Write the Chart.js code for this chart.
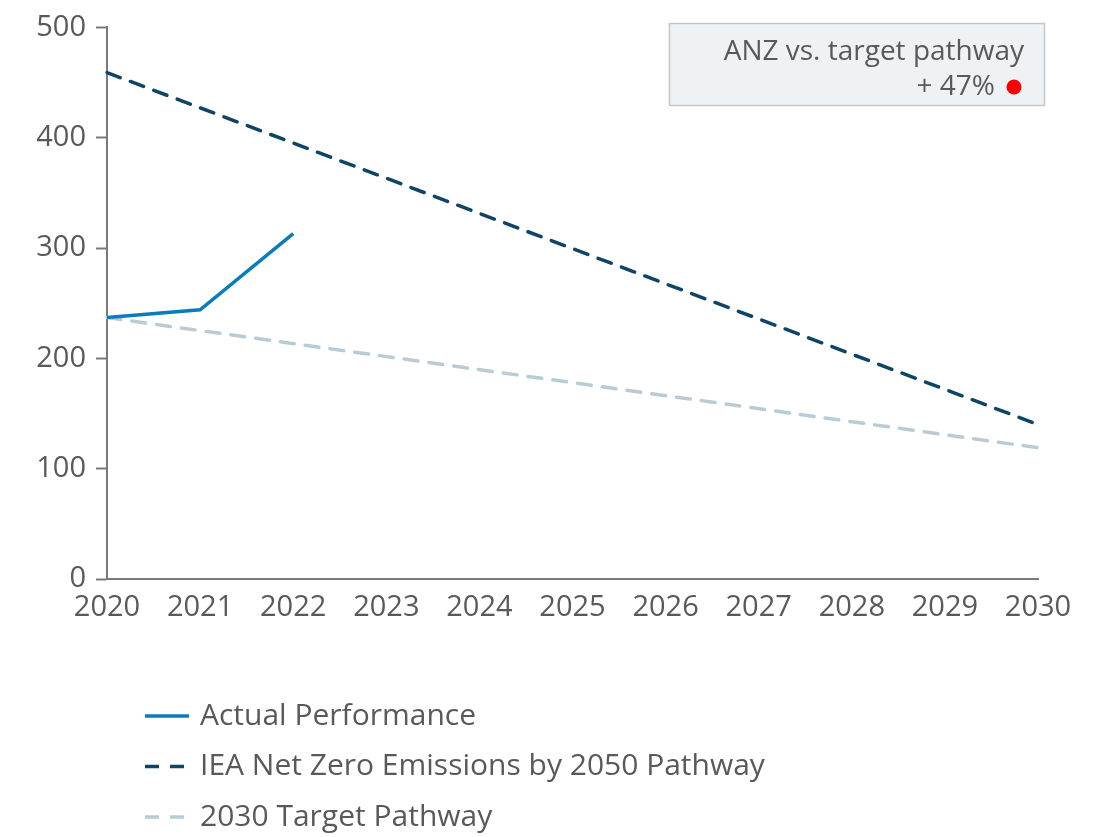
<!DOCTYPE html>
<html lang="en">
<head>
    <meta charset="UTF-8">
    <title>ANZ vs. target pathway</title>
    <script src="https://cdn.jsdelivr.net/npm/chart.js"></script>
    <style>
        html, body {
            margin: 0;
            padding: 0;
            background: #ffffff;
        }
        #chart {
            display: block;
        }
    </style>
</head>
<body>
<canvas id="chart" width="1108" height="837"></canvas>
<script>
// Dados do gráfico
const years = ['2020', '2021', '2022', '2023', '2024', '2025', '2026', '2027', '2028', '2029', '2030'];
const actualPerformance = [237, 244, 313, null, null, null, null, null, null, null, null];
// straight pathways: only the end points are known, the line spans the gap
const ieaPathway = [459, null, null, null, null, null, null, null, null, null, 140];
const targetPathway = [237, null, null, null, null, null, null, null, null, null, 119];
const yTicks = [0, 100, 200, 300, 400, 500];

const boxTitle = 'ANZ vs. target pathway';
const boxValue = '+ 47%';

const textColor = '#595959';
const axisColor = '#7a7a7a';
const fontFamily = '"Open Sans", "Noto Sans", sans-serif';

// caixa de anotação no canto superior direito
const annotationBox = {
    id: 'annotationBox',
    afterDraw(chart) {
        const ctx = chart.ctx;
        ctx.save();
        ctx.fillStyle = '#eef2f5';
        ctx.strokeStyle = '#c6c6c6';
        ctx.lineWidth = 1.5;
        ctx.fillRect(669.5, 23.5, 375, 82);
        ctx.strokeRect(669.5, 23.5, 375, 82);
        ctx.fillStyle = textColor;
        ctx.font = '28px ' + fontFamily;
        ctx.textAlign = 'right';
        ctx.textBaseline = 'middle';
        ctx.fillText(boxTitle, 1024, 52);
        ctx.fillText(boxValue, 995, 87);
        ctx.fillStyle = '#ff0000';
        ctx.beginPath();
        ctx.arc(1014, 87, 7.5, 0, Math.PI * 2);
        ctx.fill();
        ctx.restore();
    }
};

// legenda vertical abaixo do gráfico
const verticalLegend = {
    id: 'verticalLegend',
    afterDraw(chart) {
        const ctx = chart.ctx;
        ctx.save();
        ctx.font = '30px ' + fontFamily;
        ctx.textBaseline = 'middle';
        ctx.textAlign = 'left';
        chart.data.datasets.forEach((ds, i) => {
            const y = 716 + i * 50.5;
            ctx.strokeStyle = ds.borderColor;
            ctx.lineWidth = 3.5;
            ctx.setLineDash(ds.borderDash || []);
            ctx.beginPath();
            ctx.moveTo(145, y);
            ctx.lineTo(189, y);
            ctx.stroke();
            ctx.setLineDash([]);
            ctx.fillStyle = textColor;
            ctx.fillText(ds.label, 200, y);
        });
        ctx.restore();
    }
};

const ctx = document.getElementById('chart').getContext('2d');
const chart = new Chart(ctx, {
    type: 'line',
    data: {
        labels: years,
        datasets: [{
            label: 'Actual Performance',
            data: actualPerformance,
            borderColor: '#0a7bbd',
            borderWidth: 3.5,
            pointRadius: 0,
            tension: 0,
            spanGaps: false
        }, {
            label: 'IEA Net Zero Emissions by 2050 Pathway',
            data: ieaPathway,
            borderColor: '#0e4466',
            borderWidth: 3.5,
            borderDash: [14, 11],
            borderCapStyle: 'round',
            pointRadius: 0,
            spanGaps: true
        }, {
            label: '2030 Target Pathway',
            data: targetPathway,
            borderColor: '#b9ccd5',
            borderWidth: 3.5,
            borderDash: [14, 11],
            borderCapStyle: 'round',
            pointRadius: 0,
            spanGaps: true
        }]
    },
    options: {
        responsive: false,
        animation: false,
        layout: {
            padding: { left: 0, right: 70, top: 24, bottom: 213 }
        },
        plugins: {
            legend: { display: false },
            tooltip: { enabled: false }
        },
        scales: {
            x: {
                offset: false,
                grid: { drawOnChartArea: false, drawTicks: false },
                border: { color: axisColor, width: 2 },
                ticks: {
                    color: textColor,
                    font: { size: 29, family: fontFamily },
                    padding: 11,
                    maxRotation: 0,
                    autoSkip: false
                },
                afterFit(scale) { scale.height = 45; }
            },
            y: {
                min: 0,
                max: 500,
                afterBuildTicks(scale) {
                    scale.ticks = yTicks.map(v => ({ value: v }));
                },
                grid: { drawOnChartArea: false, drawTicks: true, tickLength: 11, color: axisColor, tickWidth: 2 },
                border: { color: axisColor, width: 2 },
                ticks: {
                    color: textColor,
                    font: { size: 29, family: fontFamily },
                    padding: 10
                },
                afterFit(scale) { scale.width = 107; }
            }
        }
    },
    plugins: [annotationBox, verticalLegend]
});
</script>
</body>
</html>
